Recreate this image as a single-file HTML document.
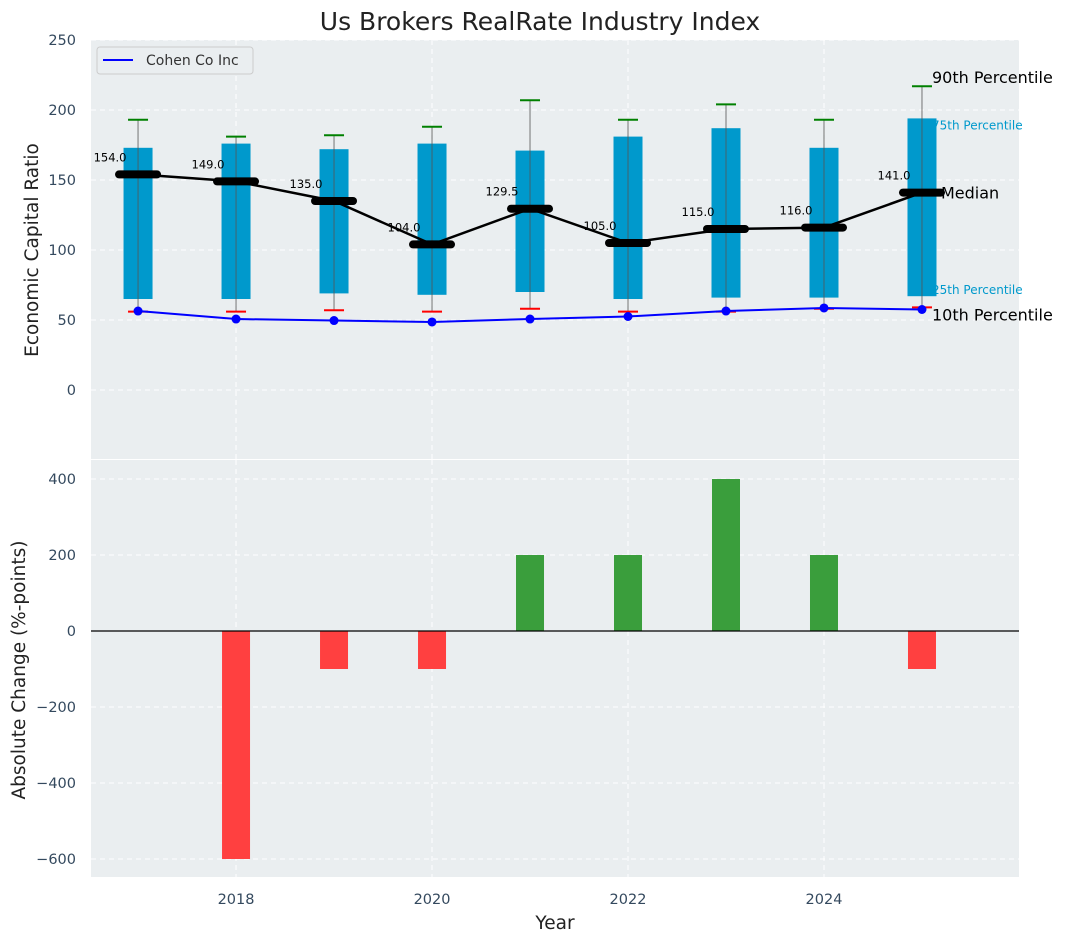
<!DOCTYPE html>
<html><head><meta charset="utf-8"><style>
body{margin:0;background:#fff;font-family:"Liberation Sans","DejaVu Sans",sans-serif}
svg text{font-family:"DejaVu Sans","Liberation Sans",sans-serif}
</style></head><body>
<svg id="c" width="1067" height="942" xmlns="http://www.w3.org/2000/svg"></svg>
<script>
const years=[2017,2018,2019,2020,2021,2022,2023,2024,2025];
const p90=[193,181,182,188,207,193,204,193,217];
const p75=[173,176,172,176,171,181,187,173,194];
const p25=[65,65,69,68,70,65,66,66,67];
const p10=[56,56,57,56,58,56,56,58,59];
const median=[154,149,135,104,129.5,105,115,116,141];
const company=[56.4,50.7,49.6,48.6,50.7,52.5,56.4,58.6,57.5];
const changeYears=[2018,2019,2020,2021,2022,2023,2024,2025];
const changes=[-600,-100,-100,200,200,400,200,-100];
const topTicks=[0,50,100,150,200,250];
const botTicks=[-600,-400,-200,0,200,400];
const xTicks=[2018,2020,2022,2024];

const svg=document.getElementById('c');
const NS='http://www.w3.org/2000/svg';
function el(t,a,p){const e=document.createElementNS(NS,t);for(const k in a)e.setAttribute(k,a[k]);(p||svg).appendChild(e);return e;}
function txt(s,a,p){const e=el('text',a,p);e.textContent=s;return e;}
const L=91,R=1019;
const x=v=>L+(v-2016.52)*(R-L)/(2025.99-2016.52);
const yT=v=>390-1.4*v;
const yB=v=>631-0.38*v;

let t=txt('Us Brokers RealRate Industry Index',{x:540,y:30,'text-anchor':'middle','font-size':25,fill:'#222'});


let g=el('g',{});
el('rect',{x:L,y:40,width:R-L,height:419,fill:'#eaeef0'},g);
for(const v of topTicks){el('line',{x1:L,x2:R,y1:yT(v),y2:yT(v),stroke:'#fff','stroke-dasharray':'5,4','stroke-width':1},g);
 const tt=txt(v,{x:76,y:yT(v)+5,'text-anchor':'end','font-size':14.5,fill:'#34495e'},g);}
for(const v of xTicks)el('line',{x1:x(v),x2:x(v),y1:40,y2:459,stroke:'#fff','stroke-dasharray':'5,4'},g);
years.forEach((yr,i)=>{
 const cx=x(yr);
 const b=el('rect',{x:cx-14.5,y:yT(p75[i]),width:29,height:yT(p25[i])-yT(p75[i]),fill:'#0099cc'},g);
 
 el('line',{x1:cx,x2:cx,y1:yT(p90[i]),y2:yT(p10[i]),stroke:'#555','stroke-width':1,opacity:0.8},g);
 const c1=el('line',{x1:cx-10,x2:cx+10,y1:yT(p90[i]),y2:yT(p90[i]),stroke:'green','stroke-width':2},g);
 
 const c2=el('line',{x1:cx-10,x2:cx+10,y1:yT(p10[i]),y2:yT(p10[i]),stroke:'red','stroke-width':2},g);
 
});
let mp=el('polyline',{points:years.map((yr,i)=>x(yr)+','+yT(median[i])).join(' '),fill:'none',stroke:'#000','stroke-width':2.5},g);

years.forEach((yr,i)=>{
 const m=el('line',{x1:x(yr)-19,x2:x(yr)+19,y1:yT(median[i]),y2:yT(median[i]),stroke:'#000','stroke-width':8,'stroke-linecap':'round'},g);
 
 const l=txt(median[i].toFixed(1),{x:x(yr)-28,y:yT(median[i])-13,'text-anchor':'middle','font-size':11.5,fill:'#000'},g);
 
});
let cp=el('polyline',{points:years.map((yr,i)=>x(yr)+','+yT(company[i])).join(' '),fill:'none',stroke:'blue','stroke-width':2},g);

years.forEach((yr,i)=>{const d=el('circle',{cx:x(yr),cy:yT(company[i]),r:4.5,fill:'blue'},g);});
const lx=x(2025);
let md=txt('Median',{x:lx+19,y:yT(median[8])+6,'font-size':16,fill:'#000'},g);

el('rect',{x:R,y:40,width:48,height:419,fill:'#fff'});
const ann=[['90th Percentile',yT(p90[8])-3,16,'#000'],['75th Percentile',yT(p75[8])+11,12,'#0099cc'],['25th Percentile',yT(p25[8])-2,12,'#0099cc'],['10th Percentile',yT(p10[8])+13,16,'#000']];
for(const a of ann){const e=txt(a[0],{x:lx+10,y:a[1],'font-size':a[2],fill:a[3]});}
let lg=el('g',{});
el('rect',{x:97,y:47,width:156,height:27,rx:3,fill:'#eaeef0',stroke:'#ccc'},lg);
el('line',{x1:103,x2:133,y1:60,y2:60,stroke:'blue','stroke-width':2},lg);
txt('Cohen Co Inc',{x:146,y:65,'font-size':14,fill:'#333'},lg);
let yl=txt('Economic Capital Ratio',{x:38,y:250,transform:'rotate(-90 38 250)','text-anchor':'middle','font-size':18.5,fill:'#222'});


let gb=el('g',{});
el('rect',{x:L,y:460,width:R-L,height:417,fill:'#eaeef0'},gb);
for(const v of botTicks){if(v!==0)el('line',{x1:L,x2:R,y1:yB(v),y2:yB(v),stroke:'#fff','stroke-dasharray':'5,4'},gb);
 const tt=txt(v<0?'\u2212'+(-v):v,{x:76,y:yB(v)+5,'text-anchor':'end','font-size':14.5,fill:'#34495e'},gb);}
for(const v of xTicks){el('line',{x1:x(v),x2:x(v),y1:460,y2:877,stroke:'#fff','stroke-dasharray':'5,4'},gb);
 const tt=txt(v,{x:x(v),y:904,'text-anchor':'middle','font-size':14.5,fill:'#34495e'});}
changeYears.forEach((yr,i)=>{const v=changes[i];
 const b=el('rect',{x:x(yr)-14,y:Math.min(yB(v),yB(0)),width:28,height:Math.abs(yB(v)-yB(0)),fill:v>=0?'#3a9e3c':'#ff4040'},gb);
 });
el('line',{x1:L,x2:R,y1:yB(0),y2:yB(0),stroke:'#000','stroke-width':1.2},gb);
let yl2=txt('Absolute Change (%-points)',{x:25,y:670,transform:'rotate(-90 25 670)','text-anchor':'middle','font-size':18.5,fill:'#222'});

let xl=txt('Year',{x:555,y:929,'text-anchor':'middle','font-size':18.5,fill:'#222'});

</script>
</body></html>
